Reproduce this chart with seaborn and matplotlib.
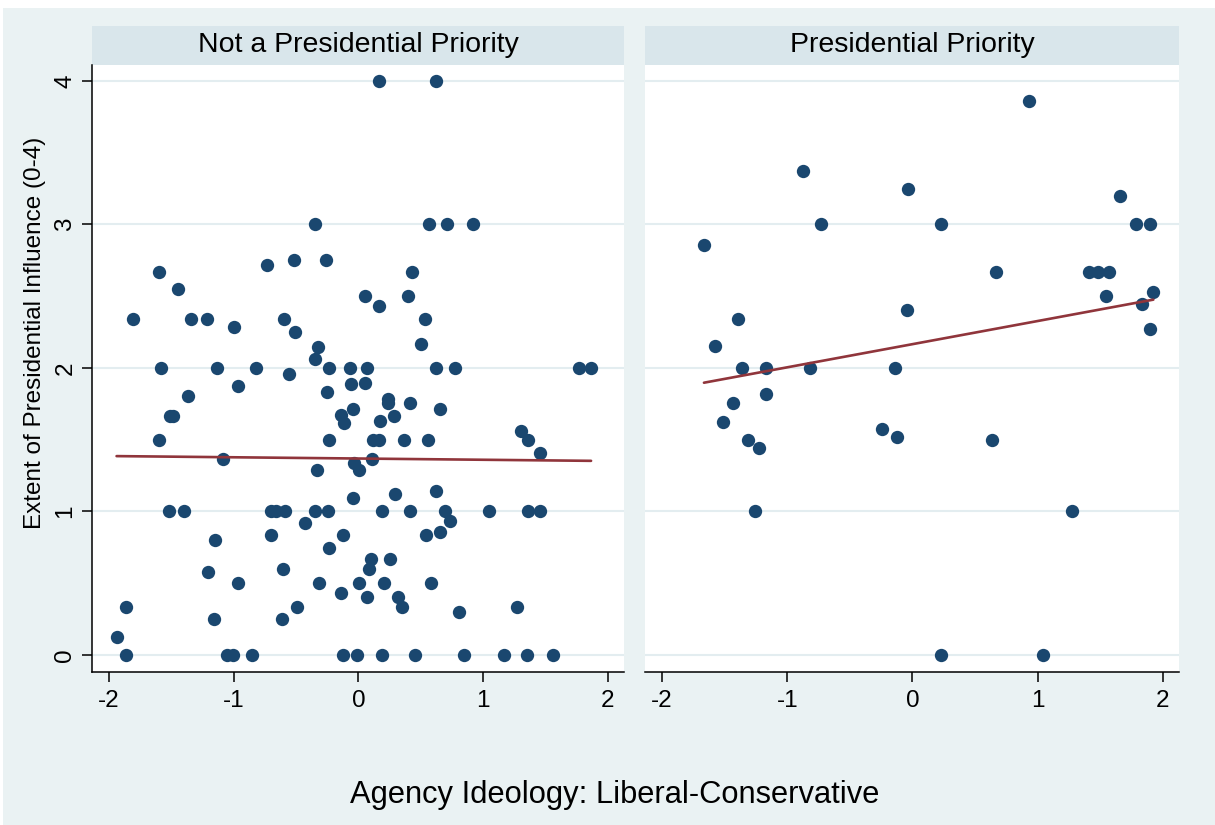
import matplotlib
matplotlib.use("Agg")
import matplotlib.pyplot as plt
from matplotlib.patches import Rectangle
import seaborn as sns
import pandas as pd

# ---------------- data ----------------
panel_titles = ["Not a Presidential Priority", "Presidential Priority"]
x_ticks = [-2, -1, 0, 1, 2]
y_ticks = [0, 1, 2, 3, 4]
x_title = "Agency Ideology: Liberal-Conservative"
y_title = "Extent of Presidential Influence (0-4)"

not_priority_x = [
    0.168, 0.619,
    -0.344, 0.568, 0.707, 0.923,
    -0.517, -0.256, -0.731, -1.597, 0.427, -1.445,
    0.05, 0.40, 0.168,
    -1.81, -1.339, -1.21, -0.597, 0.536,
    -0.997, -0.512, -0.325, -0.344, 0.504,
    -1.584, -1.134, -0.819, -0.235, -0.069, 0.066, 0.624, 0.773, 1.773, 1.866,
    -0.557, -0.963, -1.37, -0.248, -0.059, 0.05,
    0.24, 0.24, 0.416, -0.040, 0.658,
    -1.51, -1.49, -0.139, -0.117, 0.173, 0.283,
    1.304, 1.36, 1.46,
    -1.597, -0.235, 0.115, 0.168, 0.362, 0.555,
    -1.085, -0.328, -0.032, 0.002, 0.107,
    -0.04, 0.29, 0.624,
    -1.52, -1.395, -0.699, -0.659, -0.587, -0.344, -0.243, 0.192, 0.416, 0.693, 1.05, 1.36, 1.46,
    0.731, -0.432,
    -0.701, -0.12, 0.541, 0.658, -1.147, -0.237,
    0.101, 0.25, 0.083, -0.605, -1.203,
    -0.963, -0.312, 0.005, 0.205, 0.584,
    -0.141, 0.067, 0.317, 0.35, 0.808, 1.275, -1.867, -0.491,
    -1.157, -0.616, -1.939,
    -1.867, -1.05, -1.005, -0.853, -0.12, -0.008, 0.186, 0.458, 0.85, 1.166, 1.35, 1.56,
]
not_priority_y = [
    4.0, 4.0,
    3.0, 3.0, 3.0, 3.0,
    2.755, 2.755, 2.72, 2.67, 2.67, 2.55,
    2.50, 2.50, 2.43,
    2.34, 2.34, 2.34, 2.34, 2.34,
    2.285, 2.248, 2.148, 2.062, 2.167,
    2.0, 2.0, 2.0, 2.0, 2.0, 2.0, 2.0, 2.0, 2.0, 2.0,
    1.955, 1.874, 1.804, 1.832, 1.888, 1.897,
    1.781, 1.753, 1.753, 1.713, 1.713,
    1.667, 1.667, 1.672, 1.618, 1.63, 1.667,
    1.56, 1.50, 1.404,
    1.5, 1.5, 1.5, 1.5, 1.5, 1.5,
    1.367, 1.286, 1.335, 1.288, 1.367,
    1.093, 1.123, 1.144,
    1.0, 1.0, 1.0, 1.0, 1.0, 1.0, 1.0, 1.0, 1.0, 1.0, 1.0, 1.0, 1.0,
    0.932, 0.916,
    0.837, 0.837, 0.837, 0.858, 0.80, 0.746,
    0.665, 0.665, 0.598, 0.598, 0.575,
    0.5, 0.5, 0.5, 0.5, 0.5,
    0.432, 0.40, 0.40, 0.33, 0.30, 0.33, 0.33, 0.33,
    0.251, 0.251, 0.126,
    0.0, 0.0, 0.0, 0.0, 0.0, 0.0, 0.0, 0.0, 0.0, 0.0, 0.0, 0.0,
]

priority_x = [
    0.934, -0.870, -0.034, 1.655, -0.727, 0.231, 1.79, 1.90,
    -1.665, 0.667, 1.412, 1.486, 1.569, 1.925, 1.547, 1.833, 1.90,
    -0.046, -1.397, -1.577, -1.359, -1.166, -0.818, -0.142,
    -1.430, -1.166, -1.51, -1.315, -1.224, -0.241, -0.12, 0.639,
    -1.256, 1.273, 0.228, 1.047,
]
priority_y = [
    3.859, 3.375, 3.25, 3.199, 3.0, 3.0, 3.0, 3.0,
    2.859, 2.669, 2.669, 2.669, 2.669, 2.527, 2.50, 2.446, 2.273,
    2.404, 2.339, 2.153, 2.0, 2.0, 2.0, 2.0,
    1.753, 1.82, 1.623, 1.497, 1.444, 1.572, 1.516, 1.497,
    1.0, 1.0, 0.0, 0.0,
]

# ---------------- style ----------------
sns.set_theme(style="white")
plt.rcParams["font.family"] = ["Liberation Sans", "DejaVu Sans"]

BG = "#EAF2F3"
STRIP = "#D9E6EB"
GRID = "#E3EDF0"
NAVY = "#1A476F"
MAROON = "#90353B"

W, H = 1215, 825
fig = plt.figure(figsize=(W / 100, H / 100), dpi=100, facecolor=BG)
# thin white margins at the top and left of the reference image
fig.patches.append(Rectangle((0, 1 - 8 / H), 1, 8 / H, transform=fig.transFigure,
                             facecolor="white", edgecolor="none", zorder=0))
fig.patches.append(Rectangle((0, 0), 3 / W, 1, transform=fig.transFigure,
                             facecolor="white", edgecolor="none", zorder=0))

def px_box(x0, y0, x1, y1):
    return [x0 / W, 1 - y1 / H, (x1 - x0) / W, (y1 - y0) / H]

data = pd.concat([
    pd.DataFrame({"ideology": not_priority_x, "influence": not_priority_y, "panel": panel_titles[0]}),
    pd.DataFrame({"ideology": priority_x, "influence": priority_y, "panel": panel_titles[1]}),
])

panels_px = [(92, 624), (645, 1179)]
top_px, bottom_px, strip_top = 65, 672, 26
xlim = (-2.136, 2.13)
ylim = (-0.1206, 4.1116)

for i, (title, (x0, x1)) in enumerate(zip(panel_titles, panels_px)):
    ax = fig.add_axes(px_box(x0, top_px, x1, bottom_px), zorder=3)
    ax.set_facecolor("white")
    sub = data[data["panel"] == title]
    sns.scatterplot(data=sub, x="ideology", y="influence", ax=ax, color=NAVY,
                    s=92, linewidth=0, zorder=3, legend=False)
    sns.regplot(data=sub, x="ideology", y="influence", ax=ax, scatter=False, ci=None,
                truncate=True, color=MAROON, line_kws={"lw": 1.9, "zorder": 4})
    ax.set_xlim(*xlim)
    ax.set_ylim(*ylim)
    ax.set_xticks(x_ticks)
    ax.set_xticklabels([str(t) for t in x_ticks])
    ax.set_yticks(y_ticks)
    ax.set_xlabel("")
    ax.set_ylabel("")
    ax.yaxis.grid(True, color=GRID, lw=1.5, zorder=0)
    ax.xaxis.grid(False)
    ax.set_axisbelow(True)
    for s in ["top", "right"]:
        ax.spines[s].set_visible(False)
    ax.spines["bottom"].set_color("black")
    ax.spines["bottom"].set_linewidth(1.1)
    ax.tick_params(axis="x", length=7.2, width=1.1, color="black", pad=6,
                   labelsize=17.5, labelcolor="black", bottom=True)
    if i == 0:
        ax.spines["left"].set_color("black")
        ax.spines["left"].set_linewidth(1.1)
        ax.tick_params(axis="y", length=7.2, width=1.1, color="black", pad=4,
                       labelsize=17.5, labelcolor="black", left=True)
        ax.set_yticklabels([str(t) for t in y_ticks], rotation=90, va="center")
    else:
        ax.spines["left"].set_visible(False)
        ax.tick_params(axis="y", left=False, labelleft=False)
    # strip
    fig.patches.append(Rectangle((x0 / W, 1 - top_px / H), (x1 - x0) / W, (top_px - strip_top) / H,
                                 transform=fig.transFigure, facecolor=STRIP, edgecolor="none", zorder=1))
    fig.text((x0 + x1) / 2 / W, 1 - (top_px + strip_top) / 2 / H, title, ha="center", va="center",
             fontsize=20.5, color="black")

fig.text(615 / W, 1 - 795 / H, x_title, ha="center", va="center", fontsize=22.2, color="black")
fig.text(35 / W, 1 - 333 / H, y_title, ha="center", va="center", rotation=90,
         fontsize=17.5, color="black")

fig.savefig("out.png", dpi=100, facecolor=fig.get_facecolor())
